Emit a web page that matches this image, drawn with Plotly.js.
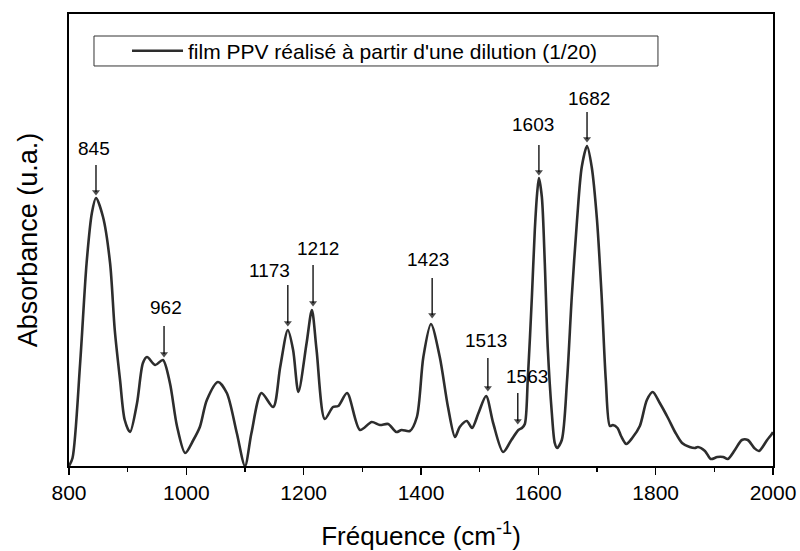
<!DOCTYPE html>
<html>
<head>
<meta charset="utf-8">
<script src="https://cdn.plot.ly/plotly-3.0.1.min.js"></script>
<style>html,body{margin:0;padding:0;background:#fff;}#chart{width:800px;height:551px;}</style>
</head>
<body>
<div id="chart"></div>
<script>
// Wavenumber (cm-1) and absorbance (arbitrary units)
const wavenumber = [800, 806, 819, 830, 839, 846, 858, 870, 878, 887, 895, 904, 916, 926, 933, 947, 960, 972, 984, 998,
  1012, 1023, 1035, 1054, 1069, 1086, 1100, 1111, 1128, 1148, 1160, 1173, 1182, 1191, 1205, 1214, 1222, 1236, 1250, 1259,
  1274, 1296, 1316, 1330, 1344, 1358, 1367, 1381, 1393, 1404, 1417, 1432, 1446, 1458, 1466, 1478, 1487, 1498, 1511, 1523,
  1540, 1554, 1566, 1572, 1577, 1582, 1589, 1594, 1598, 1601, 1606, 1611, 1616, 1623, 1628, 1632, 1640, 1649, 1657, 1666,
  1674, 1683, 1691, 1700, 1708, 1715, 1722, 1727, 1735, 1741, 1750, 1760, 1773, 1785, 1795, 1807, 1821, 1833, 1845, 1858,
  1867, 1872, 1884, 1894, 1905, 1915, 1923, 1935, 1947, 1957, 1968, 1976, 1990, 1998, 2000];
const absorbance = [0, 8, 103, 203, 253, 268, 249, 203, 136, 86, 46, 34, 63, 103, 109, 101, 106, 83, 40, 13,
  26, 39, 66, 84, 73, 33, 0, 33, 73, 59, 99, 136, 116, 74, 123, 156, 116, 47, 59, 60,
  73, 36, 44, 41, 42, 34, 36, 35, 49, 109, 142, 109, 59, 29, 39, 45, 38, 53, 70, 43,
  14, 26, 36, 38, 42, 86, 169, 236, 273, 288, 269, 203, 119, 53, 23, 18, 26, 86, 169, 246,
  299, 320, 299, 246, 169, 86, 40, 41, 38, 30, 22, 28, 40, 66, 74, 63, 48, 34, 23, 19,
  18, 19, 15, 7, 9, 9, 7, 16, 26, 26, 18, 15, 26, 32, 34];

// Peak labels and where their arrows point (wavenumber, absorbance)
const peakLabels = ['845', '962', '1173', '1212', '1423', '1513', '1563', '1603', '1682'];
const peakX = [846, 962, 1173, 1216, 1419, 1514, 1565, 1601, 1683];
const peakY = [271, 109, 140, 160, 148, 75, 42, 291, 324];
// arrow tails (same absorbance units)
const arrowTailY = [301, 140, 181, 201, 188, 108, 73, 321, 354];

const xTickVals = [800, 1000, 1200, 1400, 1600, 1800, 2000];
const seriesName = "film PPV réalisé à partir d'une dilution (1/20)";

const FONT = '"Liberation Sans", Arial, sans-serif';

// layout-only placement of the labels (pixel offsets relative to arrow tips)
const labelDx = [-2, 2, -18, 5, -4, -2, 9, -6, 2];
const labelDy = [-47, -50, -56, -58, -59, -51, -48, -51, -44];

const annotations = [];
for (let i = 0; i < peakLabels.length; i++) {
  annotations.push({
    x: peakX[i], y: peakY[i], xref: 'x', yref: 'y',
    text: peakLabels[i], showarrow: false,
    xshift: labelDx[i], yshift: -labelDy[i],
    font: {family: FONT, size: 19, color: '#000'}
  });
}

// arrows as line segments with a triangle head, built from the peak arrays
const arrX = [], arrY = [], arrSize = [];
for (let i = 0; i < peakLabels.length; i++) {
  arrX.push(peakX[i], peakX[i], null);
  arrY.push(arrowTailY[i], peakY[i] + 3, null);
  arrSize.push(0, 7, 0);
}

const trace = {
  x: wavenumber, y: absorbance, type: 'scatter', mode: 'lines',
  name: seriesName,
  line: {color: '#2d2d2d', width: 2.6, shape: 'spline', smoothing: 0.8}
};
const arrows = {
  x: arrX, y: arrY, type: 'scatter', mode: 'lines+markers',
  showlegend: false, hoverinfo: 'skip', connectgaps: false,
  line: {color: '#000', width: 1.3},
  marker: {symbol: 'triangle-down', size: arrSize, color: '#000', line: {width: 0}}
};

const layout = {
  width: 800, height: 551,
  margin: {l: 69, r: 27, t: 14, b: 85},
  paper_bgcolor: '#fff', plot_bgcolor: '#fff',
  font: {family: FONT, color: '#000'},
  showlegend: true,
  legend: {
    x: 0.0824, y: 0.918, xanchor: 'left', yanchor: 'middle',
    bgcolor: 'rgba(0,0,0,0)', borderwidth: 0,
    font: {family: FONT, size: 21, color: '#000'},
    itemwidth: 51
  },
  shapes: [{
    type: 'rect', xref: 'paper', yref: 'paper', layer: 'below',
    x0: 0.0355, x1: 0.8366, y0: 0.885, y1: 0.9513,
    line: {color: '#333', width: 1}, fillcolor: '#fff'
  }],
  xaxis: {
    range: [800, 2000], tickvals: xTickVals,
    ticks: 'outside', ticklen: 7, tickwidth: 1.5, tickcolor: '#000',
    minor: {dtick: 100, ticks: 'outside', ticklen: 4, tickwidth: 1.5, tickcolor: '#000'},
    showline: true, linecolor: '#000', linewidth: 2, mirror: true,
    showgrid: false, zeroline: false,
    tickfont: {family: FONT, size: 21, color: '#000'},
    title: {text: 'Fréquence (cm<sup>-1</sup>)', font: {family: FONT, size: 26, color: '#000'}, standoff: 24}
  },
  xaxis2: {
    overlaying: 'x', side: 'top', anchor: 'y', range: [800, 2000],
    tickvals: [1000, 1200, 1400, 1600, 1800],
    ticks: 'inside', ticklen: 9, tickwidth: 1.5, tickcolor: '#000',
    showticklabels: false, showline: false, showgrid: false, zeroline: false
  },
  yaxis: {
    range: [0, 452], showticklabels: false, ticks: '',
    showline: true, linecolor: '#000', linewidth: 2, mirror: true,
    showgrid: false, zeroline: false,
    title: {text: 'Absorbance (u.a.)', font: {family: FONT, size: 27, color: '#000'}, standoff: 22}
  },
  annotations: annotations
};

Plotly.newPlot('chart', [trace, arrows], layout, {displayModeBar: false, staticPlot: true});
</script>
</body>
</html>
